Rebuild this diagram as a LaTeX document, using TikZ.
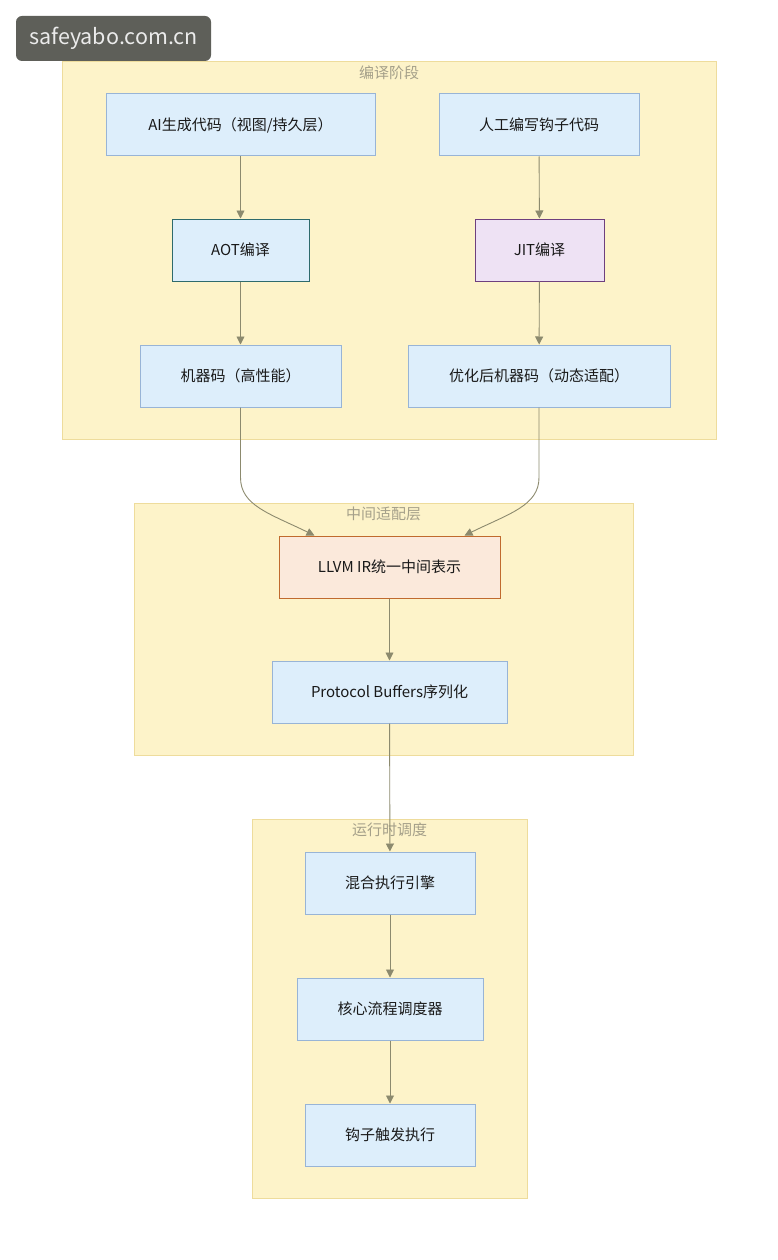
\documentclass[tikz,border=0pt]{standalone}
\usepackage{fontspec}
\setmainfont{Noto Sans CJK SC}
\usetikzlibrary{arrows.meta,positioning}

\definecolor{clfill}{HTML}{FDF3C9}
\definecolor{cldraw}{HTML}{EEDC9C}
\definecolor{cltext}{HTML}{A5A08A}
\definecolor{bxfill}{HTML}{DDEEFB}
\definecolor{bxdraw}{HTML}{98B4D6}
\definecolor{aotdraw}{HTML}{2E6A6C}
\definecolor{jitfill}{HTML}{EEE2F4}
\definecolor{jitdraw}{HTML}{6E3F7E}
\definecolor{irfill}{HTML}{FBE9DB}
\definecolor{irdraw}{HTML}{C06A2E}
\definecolor{arrcol}{HTML}{8C8A6E}
\definecolor{wmfill}{HTML}{5E5F59}

\newcommand{\cluster}[5]{
	\pgfmathsetmacro{\CLxa}{#1}
	\pgfmathsetmacro{\CLya}{#2}
	\pgfmathsetmacro{\CLxb}{#3}
	\pgfmathsetmacro{\CLyb}{#4}
	\pgfmathsetmacro{\CLxm}{0.5 * \CLxa + 0.5 * \CLxb}
	\draw[clusterbox] (\CLxa, \CLya) rectangle (\CLxb, \CLyb);
	\node[clusterlabel] at (\CLxm, \CLya + 11) {#5};
}

\tikzset{
	clusterbox/.style={fill=clfill, draw=cldraw, line width=1pt},
	clusterlabel/.style={text=cltext, font=\fontsize{15}{17}\selectfont},
	box/.style={draw=bxdraw, fill=bxfill, line width=1pt, minimum height=62pt,
		inner sep=0pt, font=\fontsize{15}{18}\selectfont, text=black!90},
	aotbox/.style={box, draw=aotdraw},
	jitbox/.style={box, fill=jitfill, draw=jitdraw},
	irbox/.style={box, fill=irfill, draw=irdraw},
	arr/.style={draw=arrcol, line width=0.9pt, -{Triangle[length=8pt,width=8pt,fill=arrcol]}}
}

\begin{document}
\begin{tikzpicture}[x=1pt, y=-1pt]
\useasboundingbox (0,0) rectangle (777,1260);

% watermark
\node[fill=wmfill, rounded corners=6pt, minimum width=195pt, minimum height=45pt,
	text=white!92!black, font=\fontsize{21.5}{24}\selectfont] (wm) at (113.5,38.5) {safeyabo.com.cn};

% clusters
\cluster{62}{62}{716}{439}{编译阶段}
\cluster{134}{503}{633}{755}{中间适配层}
\cluster{252}{819}{527}{1198}{运行时调度}

% compile stage
\node[box, minimum width=269pt] (aicode) at (240.5,125) {AI生成代码（视图/持久层）};
\node[box, minimum width=200pt] (hookcode) at (539,125) {人工编写钩子代码};
\node[aotbox, minimum width=137pt] (aot) at (240.5,250) {AOT编译};
\node[jitbox, minimum width=129pt] (jit) at (539.5,250) {JIT编译};
\node[box, minimum width=201pt] (mcode) at (240.5,376) {机器码（高性能）};
\node[box, minimum width=262pt] (optcode) at (539,376) {优化后机器码（动态适配）};

% middle layer
\node[irbox, minimum width=221pt] (llvm) at (389.5,567) {LLVM IR统一中间表示};
\node[box, minimum width=235pt] (proto) at (389.5,692) {Protocol Buffers序列化};

% runtime
\node[box, minimum width=170pt] (engine) at (390,883) {混合执行引擎};
\node[box, minimum width=186pt] (sched) at (390,1009) {核心流程调度器};
\node[box, minimum width=170pt] (hookrun) at (390,1135) {钩子触发执行};

% edges
\draw[arr] (aicode) -- (aot);
\draw[arr] (hookcode) -- (jit);
\draw[arr] (aot) -- (mcode);
\draw[arr] (jit) -- (optcode);
\draw[arr] (mcode.south) -- ++(0,70) .. controls +(0,28) and +(-45,-22) .. ([xshift=-75pt]llvm.north);
\draw[arr] (optcode.south) -- ++(0,70) .. controls +(0,28) and +(45,-22) .. ([xshift=75pt]llvm.north);
\draw[arr] (llvm) -- (proto);
\draw[arr] (proto) -- (engine);
\draw[arr] (engine) -- (sched);
\draw[arr] (sched) -- (hookrun);
\end{tikzpicture}
\end{document}
